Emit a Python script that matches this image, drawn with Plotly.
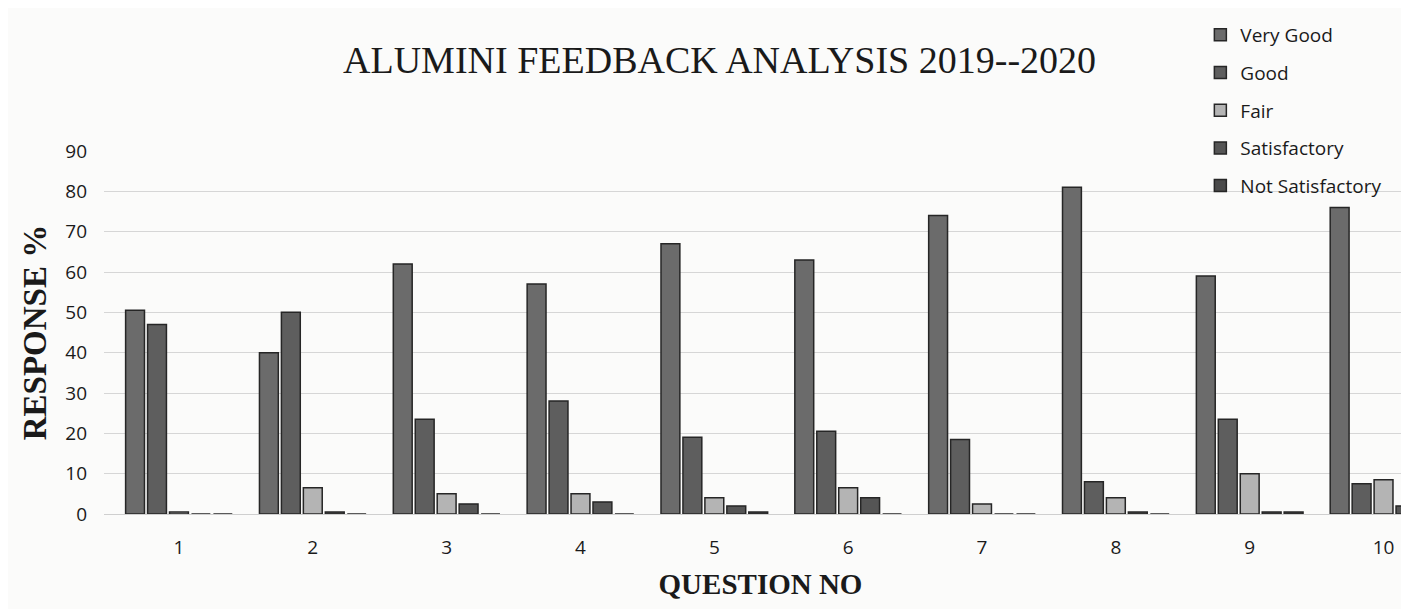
import plotly.graph_objects as go

questions = ["1", "2", "3", "4", "5", "6", "7", "8", "9", "10"]
very_good = [50.5, 40, 62, 57, 67, 63, 74, 81, 59, 76]
good = [47, 50, 23.5, 28, 19, 20.5, 18.5, 8, 23.5, 7.5]
fair = [0.5, 6.5, 5, 5, 4, 6.5, 2.5, 4, 10, 8.5]
satisfactory = [0, 0.5, 2.5, 3, 2, 4, 0, 0.5, 0.5, 2]
not_satisfactory = [0, 0, 0, 0, 0.5, 0, 0, 0, 0.5, 0]

series = [
    ("Very Good", very_good, "#6b6b6b"),
    ("Good", good, "#5e5e5e"),
    ("Fair", fair, "#b4b4b4"),
    ("Satisfactory", satisfactory, "#555555"),
    ("Not Satisfactory", not_satisfactory, "#4a4a4a"),
]

fig = go.Figure()
for name, vals, col in series:
    fig.add_trace(go.Bar(
        x=questions, y=vals, name=name, legendgroup=name,
        marker=dict(color=col, line=dict(color="#262626", width=1.5)),
    ))

serif = "Liberation Serif, Times New Roman, serif"
sans = "Open Sans, Liberation Sans, sans-serif"

fig.update_layout(
    width=1409, height=609,
    paper_bgcolor="#fbfbfa", plot_bgcolor="#fbfbfa",
    margin=dict(l=96, r=0, t=143, b=103),
    barmode="group", bargap=0.18, bargroupgap=0.14,
    title=dict(text="ALUMINI FEEDBACK ANALYSIS 2019--2020",
               font=dict(family=serif, size=38, color="#1a1a1a"),
               x=0.505, xanchor="center", y=0.915, yanchor="middle"),
    legend=dict(x=0.835, y=1.372, xanchor="left", yanchor="top",
                font=dict(family=sans, size=19, color="#1a1a1a"),
                tracegroupgap=10, bgcolor="rgba(0,0,0,0)",
                itemwidth=30),
    font=dict(family=sans, color="#1a1a1a"),
)
fig.update_xaxes(
    type="category", range=[-0.56, 9.25],
    showgrid=False, zeroline=False, showline=False,
    ticks="", ticklabelstandoff=20,
    tickfont=dict(family=sans, size=19, color="#1a1a1a"),
    title=dict(text="<b>QUESTION NO</b>", font=dict(family=serif, size=29, color="#1a1a1a"),
               standoff=14),
)
fig.update_yaxes(
    range=[0, 90], dtick=10,
    showgrid=True, gridcolor="#d6d6d6", gridwidth=1,
    zeroline=True, zerolinecolor="#cfcfcf", zerolinewidth=1,
    showline=False, ticks="", ticklabelstandoff=16,
    tickfont=dict(family=sans, size=19, color="#1a1a1a"),
    title=dict(text="<b>RESPONSE %</b>", font=dict(family=serif, size=33, color="#1a1a1a"),
               standoff=8),
)

fig.write_html("out.html")
